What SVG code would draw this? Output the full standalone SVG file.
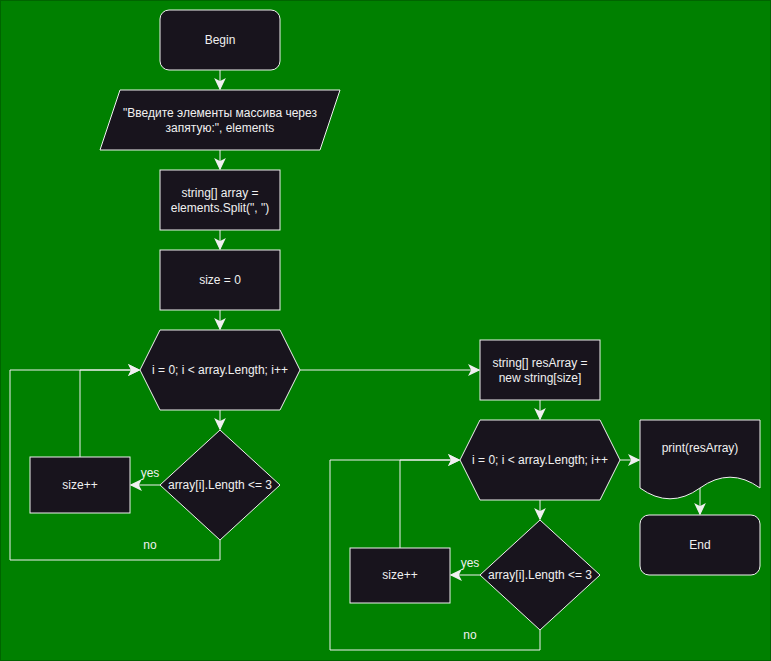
<svg xmlns="http://www.w3.org/2000/svg" width="771" height="661" viewBox="0 0 771 661">
  <style>
    .shape { fill: #18141d; stroke: #f0f0f0; stroke-width: 1; }
    .edge { fill: none; stroke: #f0f0f0; stroke-width: 1; }
    text { font-family: "Liberation Sans", Arial, Helvetica, sans-serif; font-size: 12px; fill: #f0f0f0; text-anchor: middle; }
  </style>
  <defs>
    <marker id="arrow" markerUnits="userSpaceOnUse" markerWidth="12" markerHeight="12" viewBox="-9 -5 10 10" refX="0" refY="0" orient="auto">
      <path d="M0,0 L-8,-3.8 L-6,0 L-8,3.8 Z" fill="#f0f0f0" stroke="#f0f0f0" stroke-width="1" stroke-linejoin="miter"/>
    </marker>
  </defs>

  <!-- page background -->
  <rect x="0" y="0" width="771" height="661" fill="#008000" stroke="#006400" stroke-width="2"/>

  <!-- connectors -->
  <g id="connectors">
    <path class="edge" d="M220,70 L220,89" marker-end="url(#arrow)"/>
    <path class="edge" d="M220,150 L220,169" marker-end="url(#arrow)"/>
    <path class="edge" d="M220,230 L220,249" marker-end="url(#arrow)"/>
    <path class="edge" d="M220,310 L220,329" marker-end="url(#arrow)"/>
    <path class="edge" d="M220,410 L220,429" marker-end="url(#arrow)"/>
    <path class="edge" d="M160,485 L131,485" marker-end="url(#arrow)"/>
    <path class="edge" d="M80,457 L80,370 L139,370" marker-end="url(#arrow)"/>
    <path class="edge" d="M220,540 L220,560 L10,560 L10,370 L139,370" marker-end="url(#arrow)"/>
    <path class="edge" d="M300,370 L479,370" marker-end="url(#arrow)"/>
    <path class="edge" d="M540,400 L540,419" marker-end="url(#arrow)"/>
    <path class="edge" d="M540,500 L540,519" marker-end="url(#arrow)"/>
    <path class="edge" d="M481,575 L451,575" marker-end="url(#arrow)"/>
    <path class="edge" d="M400,548 L400,460 L459,460" marker-end="url(#arrow)"/>
    <path class="edge" d="M540,630 L540,650 L330,650 L330,460 L459,460" marker-end="url(#arrow)"/>
    <path class="edge" d="M620,460 L639,460" marker-end="url(#arrow)"/>
    <path class="edge" d="M700,488 L700,514" marker-end="url(#arrow)"/>
    <text x="150" y="477">yes</text>
    <text x="150" y="549">no</text>
    <text x="470" y="567">yes</text>
    <text x="470" y="639">no</text>
  </g>

  <g id="begin">
    <rect class="shape" x="160" y="10" width="120" height="60" rx="9" ry="9"/>
    <text x="220" y="44">Begin</text>
  </g>

  <g id="input">
    <polygon class="shape" points="120,90 340,90 320,150 100,150"/>
    <text x="220" y="117">"Введите элементы массива через</text>
    <text x="220" y="132">запятую:", elements</text>
  </g>

  <g id="split">
    <rect class="shape" x="160" y="170" width="120" height="60"/>
    <text x="220" y="197">string[] array =</text>
    <text x="220" y="212">elements.Split(", ")</text>
  </g>

  <g id="size-init">
    <rect class="shape" x="160" y="250" width="120" height="60"/>
    <text x="220" y="284">size = 0</text>
  </g>

  <g id="loop1">
    <polygon class="shape" points="160,330 280,330 300,370 280,410 160,410 140,370"/>
    <text x="220" y="374">i = 0; i &lt; array.Length; i++</text>
  </g>

  <g id="check1">
    <polygon class="shape" points="220,430 280,485 220,540 160,485"/>
    <text x="220" y="489">array[i].Length &lt;= 3</text>
  </g>

  <g id="inc1">
    <rect class="shape" x="30" y="457" width="100" height="56"/>
    <text x="80" y="489">size++</text>
  </g>

  <g id="res-alloc">
    <rect class="shape" x="480" y="340" width="120" height="60"/>
    <text x="540" y="367">string[] resArray =</text>
    <text x="540" y="382">new string[size]</text>
  </g>

  <g id="loop2">
    <polygon class="shape" points="480,420 600,420 620,460 600,500 480,500 460,460"/>
    <text x="540" y="464">i = 0; i &lt; array.Length; i++</text>
  </g>

  <g id="check2">
    <polygon class="shape" points="540,520 600,575 540,630 480,575"/>
    <text x="540" y="579">array[i].Length &lt;= 3</text>
  </g>

  <g id="inc2">
    <rect class="shape" x="350" y="548" width="100" height="55"/>
    <text x="400" y="579">size++</text>
  </g>

  <g id="print">
    <path class="shape" d="M640,420 L760,420 L760,488 Q730,466.4 700,488 Q670,509.6 640,488 Z"/>
    <text x="700" y="452">print(resArray)</text>
  </g>

  <g id="end">
    <rect class="shape" x="640" y="515" width="120" height="60" rx="9" ry="9"/>
    <text x="700" y="549">End</text>
  </g>
</svg>
